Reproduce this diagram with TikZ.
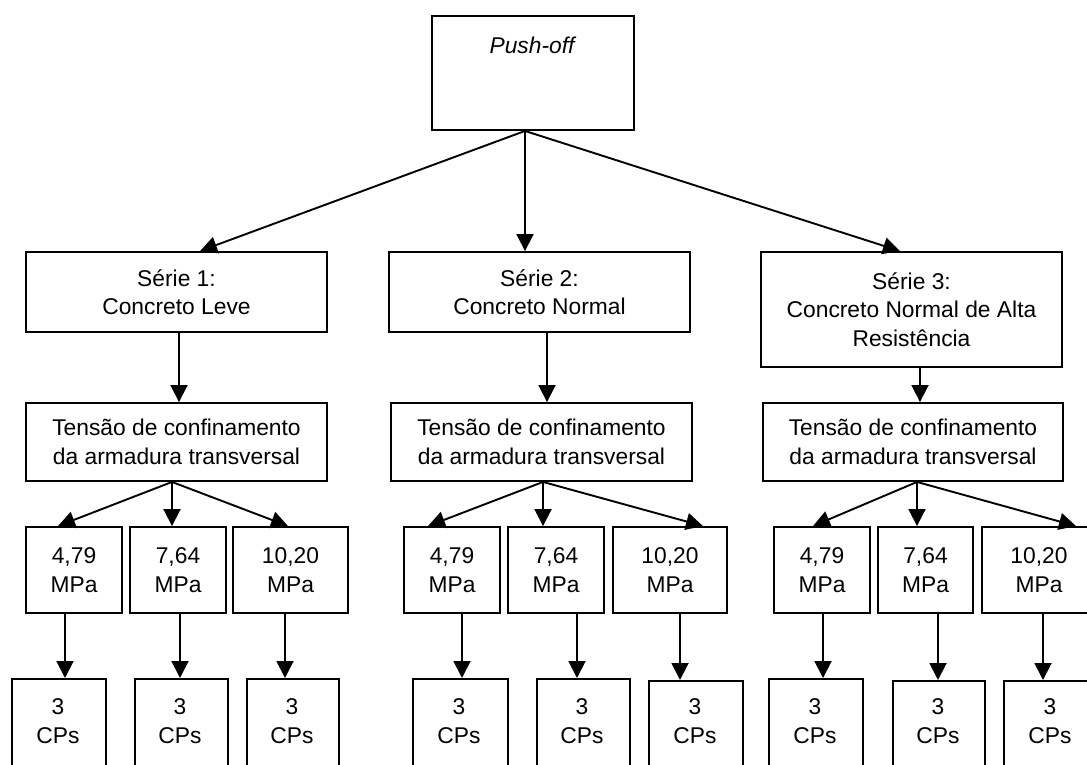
\documentclass[tikz,border=0pt]{standalone}
\usepackage{fontspec}
\setmainfont{Liberation Sans}
\usetikzlibrary{arrows.meta}
\newcommand\diagfont{\fontsize{22.8}{28.5}\selectfont}
\tikzset{
  box/.style={draw, line width=1.9pt, inner sep=0pt, align=center, font=\diagfont, text=black},
  txt/.style={inner sep=0pt, align=center, font=\diagfont},
  arr/.style={-{Triangle[length=17pt,width=17pt]}, line width=1.9pt},
}
\begin{document}
\begin{tikzpicture}[x=1pt,y=-1pt]
\useasboundingbox (0,0) rectangle (1087,765);
\clip (0,0) rectangle (1087,765);
\fill[white] (0,0) rectangle (1087,765);
% top
\node[box, minimum width=202pt, minimum height=114pt] (push) at (533,73) {};
\node[txt] (pushlbl) at (532,45) {\itshape Push-off};
% series
\node[box, minimum width=301pt, minimum height=80pt] (s1) at (176.5,292) {Série 1:\\Concreto Leve};
\node[box, minimum width=301pt, minimum height=80pt] (s2) at (539.5,292) {Série 2:\\Concreto Normal};
\node[box, minimum width=301pt, minimum height=115pt] (s3) at (911.5,309.5) {Série 3:\\Concreto Normal de Alta\\Resistência};
% tension
\node[box, minimum width=301pt, minimum height=78pt] (t1) at (176.5,442) {Tensão de confinamento\\da armadura transversal};
\node[box, minimum width=301pt, minimum height=78pt] (t2) at (541.5,442) {Tensão de confinamento\\da armadura transversal};
\node[box, minimum width=300pt, minimum height=78pt] (t3) at (913,442) {Tensão de confinamento\\da armadura transversal};
% MPa
\node[box, minimum width=96pt, minimum height=86pt] (m1a) at (74,570) {4,79\\MPa};
\node[box, minimum width=96pt, minimum height=86pt] (m1b) at (178,570) {7,64\\MPa};
\node[box, minimum width=115pt, minimum height=86pt] (m1c) at (290.5,570) {10,20\\MPa};
\node[box, minimum width=96pt, minimum height=86pt] (m2a) at (452,570) {4,79\\MPa};
\node[box, minimum width=96pt, minimum height=86pt] (m2b) at (556,570) {7,64\\MPa};
\node[box, minimum width=114pt, minimum height=86pt] (m2c) at (670,570) {10,20\\MPa};
\node[box, minimum width=96pt, minimum height=86pt] (m3a) at (822,570) {4,79\\MPa};
\node[box, minimum width=95pt, minimum height=86pt] (m3b) at (925.5,570) {7,64\\MPa};
\node[box, minimum width=114pt, minimum height=86pt] (m3c) at (1039,570) {10,20\\MPa};
% CPs boxes
\node[box, anchor=north, minimum width=94pt, minimum height=120pt] (c1a) at (59,678) {};
\node[box, anchor=north, minimum width=93pt, minimum height=120pt] (c1b) at (181.5,678) {};
\node[box, anchor=north, minimum width=92pt, minimum height=120pt] (c1c) at (293,678) {};
\node[box, anchor=north, minimum width=95pt, minimum height=120pt] (c2a) at (460.5,678) {};
\node[box, anchor=north, minimum width=93pt, minimum height=120pt] (c2b) at (583.5,678) {};
\node[box, anchor=north, minimum width=94pt, minimum height=120pt] (c2c) at (696,680) {};
\node[box, anchor=north, minimum width=94pt, minimum height=120pt] (c3a) at (816,678) {};
\node[box, anchor=north, minimum width=92pt, minimum height=120pt] (c3b) at (939,680) {};
\node[box, anchor=north, minimum width=94pt, minimum height=120pt] (c3c) at (1051,680) {};
\foreach \n/\x in {c1a/58, c1b/180, c1c/292, c2a/459, c2b/582, c2c/695, c3a/815, c3b/938, c3c/1050}
  \node[txt] (\n txt) at (\x,721) {3\\CPs};
% arrows top
\coordinate (pA) at ([xshift=-8pt]push.south);
\draw[arr] (pA) -- ([xshift=23.5pt]s1.north);
\draw[arr] (pA) -- ([xshift=-14.5pt]s2.north);
\draw[arr] (pA) -- ([xshift=-11.5pt]s3.north);
% series -> tension
\draw[arr] ([xshift=2.5pt]s1.south) -- ([xshift=2.5pt]s1.south |- t1.north);
\draw[arr] ([xshift=7.5pt]s2.south) -- ([xshift=7.5pt]s2.south |- t2.north);
\draw[arr] ([xshift=8.5pt]s3.south) -- ([xshift=8.5pt]s3.south |- t3.north);
% fans
\coordinate (f1) at ([xshift=-4.5pt]t1.south);
\coordinate (f2) at ([xshift=1.5pt]t2.south);
\coordinate (f3) at ([xshift=4pt]t3.south);
\draw[arr] (f1) -- ([xshift=-16pt]m1a.north);
\draw[arr] (f1) -- (f1 |- m1b.north);
\draw[arr] (f1) -- ([xshift=-2.5pt]m1c.north);
\draw[arr] (f2) -- ([xshift=-24pt]m2a.north);
\draw[arr] (f2) -- (f2 |- m2b.north);
\draw[arr] (f2) -- ([xshift=33pt]m2c.north);
\draw[arr] (f3) -- ([xshift=-9pt]m3a.north);
\draw[arr] (f3) -- (f3 |- m3b.north);
\draw[arr] (f3) -- ([xshift=37pt]m3c.north);
% MPa -> CPs
\draw[arr] ([xshift=-9pt]m1a.south) -- ([xshift=-9pt]m1a.south |- c1a.north);
\draw[arr] ([xshift=2pt]m1b.south) -- ([xshift=2pt]m1b.south |- c1b.north);
\draw[arr] ([xshift=-5.5pt]m1c.south) -- ([xshift=-5.5pt]m1c.south |- c1c.north);
\draw[arr] ([xshift=10pt]m2a.south) -- ([xshift=10pt]m2a.south |- c2a.north);
\draw[arr] ([xshift=21pt]m2b.south) -- ([xshift=21pt]m2b.south |- c2b.north);
\draw[arr] ([xshift=10pt]m2c.south) -- ([xshift=10pt]m2c.south |- c2c.north);
\draw[arr] ([xshift=1pt]m3a.south) -- ([xshift=1pt]m3a.south |- c3a.north);
\draw[arr] ([xshift=12.5pt]m3b.south) -- ([xshift=12.5pt]m3b.south |- c3b.north);
\draw[arr] ([xshift=4pt]m3c.south) -- ([xshift=4pt]m3c.south |- c3c.north);
\end{tikzpicture}
\end{document}
